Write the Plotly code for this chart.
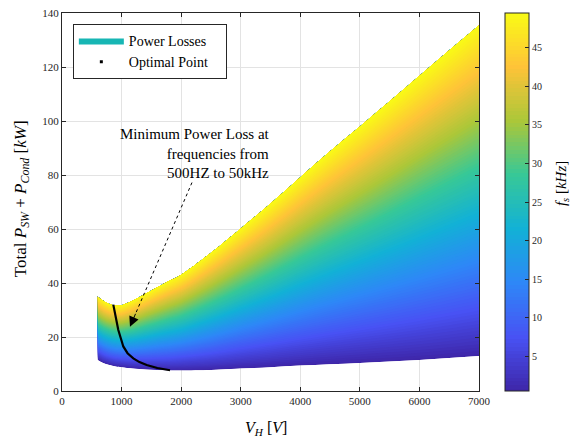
import plotly.graph_objects as go

# ---------------- data ----------------
V_H = [600, 700, 800, 900, 1000, 1200, 1400, 1600, 1800, 2000,
       2500, 3000, 3500, 4000, 4500, 5000, 5500, 6000, 6500, 7000]
freq_khz = [0.5, 10, 20, 30, 40, 49.5]

loss_f0p5 = [11.5, 10.3, 9.6, 9.1, 8.8, 8.3, 8.0, 7.8, 7.6, 7.6,
             7.8, 8.3, 8.8, 9.4, 9.9, 10.4, 10.9, 11.5, 12.2, 13.0]
loss_f10 = [16.1, 14.8, 14.0, 13.5, 13.3, 13.2, 13.4, 13.7, 14.0, 14.5,
            16.2, 18.4, 20.6, 22.9, 25.2, 27.4, 29.6, 31.9, 34.3, 36.8]
loss_f20 = [20.9, 19.5, 18.6, 18.1, 18.0, 18.4, 19.1, 20.0, 20.8, 21.7,
            25.1, 29.0, 32.9, 37.2, 41.3, 45.3, 49.3, 53.4, 57.6, 61.8]
loss_f30 = [25.6, 24.1, 23.2, 22.7, 22.6, 23.5, 24.9, 26.2, 27.6, 29.0,
            33.9, 39.5, 45.3, 51.4, 57.4, 63.1, 68.9, 74.9, 80.8, 86.7]
loss_f40 = [30.4, 28.8, 27.8, 27.3, 27.3, 28.7, 30.6, 32.5, 34.4, 36.2,
            42.8, 50.1, 57.6, 65.7, 73.5, 81.0, 88.6, 96.4, 104.1, 111.7]
loss_f49p5 = [35.0, 33.3, 32.2, 31.7, 31.8, 33.6, 36.0, 38.4, 40.8, 43.1,
              51.2, 60.2, 69.4, 79.2, 88.8, 98.0, 107.3, 116.8, 126.2, 135.5]

opt_V = [861, 900, 945, 1000, 1029, 1100, 1197, 1300, 1421, 1600, 1813]
opt_P = [32.0, 27.5, 22.6, 18.6, 16.5, 14.0, 12.1, 10.7, 9.6, 8.5, 7.7]

cbar_ticks = [5, 10, 15, 20, 25, 30, 35, 40, 45]
x_ticks = [0, 1000, 2000, 3000, 4000, 5000, 6000, 7000]
y_ticks = [0, 20, 40, 60, 80, 100, 120, 140]

# arrow (tail -> head) in data units
arrow_tail = (2182, 77.2)
arrow_head = (1141, 23.8)

parula = [
    [0 / 7, "rgb(62,38,168)"],
    [1 / 7, "rgb(72,82,244)"],
    [2 / 7, "rgb(46,135,247)"],
    [3 / 7, "rgb(18,177,214)"],
    [4 / 7, "rgb(55,200,151)"],
    [5 / 7, "rgb(171,199,57)"],
    [6 / 7, "rgb(254,195,56)"],
    [7 / 7, "rgb(249,251,21)"],
]

FONT = "Liberation Serif, DejaVu Serif, serif"
AX = "#262626"

levels = [loss_f0p5, loss_f10, loss_f20, loss_f30, loss_f40, loss_f49p5]
car_y = [[levels[i][j] for i in range(len(freq_khz))] for j in range(len(V_H))]
car_x = [[V_H[j] for i in range(len(freq_khz))] for j in range(len(V_H))]
car_z = [[freq_khz[i] for i in range(len(freq_khz))] for j in range(len(V_H))]

fig = go.Figure()

hidden_axis = dict(showgrid=False, showline=False, startline=False, endline=False,
                   showticklabels="none", minorgridcount=0)
fig.add_trace(go.Carpet(
    a=freq_khz, b=V_H, x=car_x, y=car_y, carpet="c1",
    aaxis=hidden_axis, baxis=hidden_axis,
))
fig.add_trace(go.Contourcarpet(
    a=freq_khz, b=V_H, z=car_z, carpet="c1",
    autocontour=False,
    contours=dict(start=0.75, end=49.25, size=0.5, coloring="fill", showlines=False),
    line=dict(width=0),
    colorscale=parula, zmin=0.5, zmax=49.5,
    showlegend=False,
    colorbar=dict(
        x=1.062, xanchor="left", xpad=0, ypad=0, y=0.5, yanchor="middle",
        len=1, lenmode="fraction",
        thickness=24, outlinewidth=1, outlinecolor=AX,
        tickvals=cbar_ticks, ticks="inside", ticklen=4, tickcolor=AX,
        tickfont=dict(family=FONT, size=10, color=AX),
    ),
))

# legend entries
fig.add_trace(go.Scatter(
    x=[None], y=[None], mode="lines", fill="toself", fillcolor="#17b6b4",
    line=dict(width=0, color="#17b6b4"), name="Power Losses    ",
))
fig.add_trace(go.Scatter(
    x=[None], y=[None], mode="markers", marker=dict(size=3, color="black", symbol="square"),
    name="Optimal Point",
))

# optimal-point curve
fig.add_trace(go.Scatter(
    x=opt_V, y=opt_P, mode="lines", line=dict(color="black", width=2.2),
    showlegend=False, hoverinfo="skip",
))

# dotted arrow shaft + arrow head
sx = arrow_head[0] + 0.1 * (arrow_tail[0] - arrow_head[0])
sy = arrow_head[1] + 0.1 * (arrow_tail[1] - arrow_head[1])
fig.add_shape(type="line", xref="x", yref="y",
              x0=arrow_tail[0], y0=arrow_tail[1], x1=sx, y1=sy,
              line=dict(color="black", width=1, dash="dot"))
fig.add_annotation(x=arrow_head[0], y=arrow_head[1], ax=sx, ay=sy,
                   axref="x", ayref="y", xref="x", yref="y", text="",
                   showarrow=True, arrowhead=2, arrowsize=2, arrowwidth=1,
                   arrowcolor="black")
fig.add_annotation(x=3520, y=88, xref="x", yref="y", xanchor="right", yanchor="middle",
                   align="right", showarrow=False,
                   text="Minimum Power Loss at<br>frequencies from<br>500HZ to 50kHz",
                   font=dict(family=FONT, size=15, color="black"))

# axis titles
fig.add_annotation(x=0.49, y=-0.098, xref="paper", yref="paper", showarrow=False,
                   xanchor="center", yanchor="middle",
                   text="<i>V<sub>H</sub></i> [<i>V</i>]",
                   font=dict(family=FONT, size=16, color="black"))
fig.add_annotation(x=-0.096, y=0.51, xref="paper", yref="paper", showarrow=False,
                   xanchor="center", yanchor="middle", textangle=-90,
                   text="Total <i>P<sub>SW</sub></i> + <i>P<sub>Cond</sub></i> [<i>kW</i>]",
                   font=dict(family=FONT, size=17, color="black"))
fig.add_annotation(x=1.199, y=0.55, xref="paper", yref="paper", showarrow=False,
                   xanchor="center", yanchor="middle", textangle=-90,
                   text="<i>f<sub>s</sub></i> [<i>kHz</i>]",
                   font=dict(family=FONT, size=15, color="black"))

axis_common = dict(showline=True, linecolor=AX, linewidth=1, mirror="ticks",
                   ticks="inside", ticklen=4, tickcolor=AX,
                   showgrid=True, gridcolor="#e3e3e3", gridwidth=1, zeroline=False,
                   tickfont=dict(family=FONT, size=11, color=AX))
fig.update_xaxes(range=[0, 7000], tickvals=x_ticks, tickformat="d", **axis_common)
fig.update_yaxes(range=[0, 140], tickvals=y_ticks, **axis_common)

fig.update_layout(
    width=571, height=441,
    margin=dict(l=62, r=92, t=13, b=50, autoexpand=False),
    paper_bgcolor="white", plot_bgcolor="white",
    font=dict(family=FONT, color="black"),
    legend=dict(x=0.026, y=0.971, xanchor="left", yanchor="top",
                bordercolor=AX, borderwidth=1, bgcolor="white",
                font=dict(family=FONT, size=14, color="black"),
                itemwidth=45, tracegroupgap=0),
)

fig.write_html("out.html", config={"displayModeBar": False},
               post_script="document.body.style.margin='0';")
